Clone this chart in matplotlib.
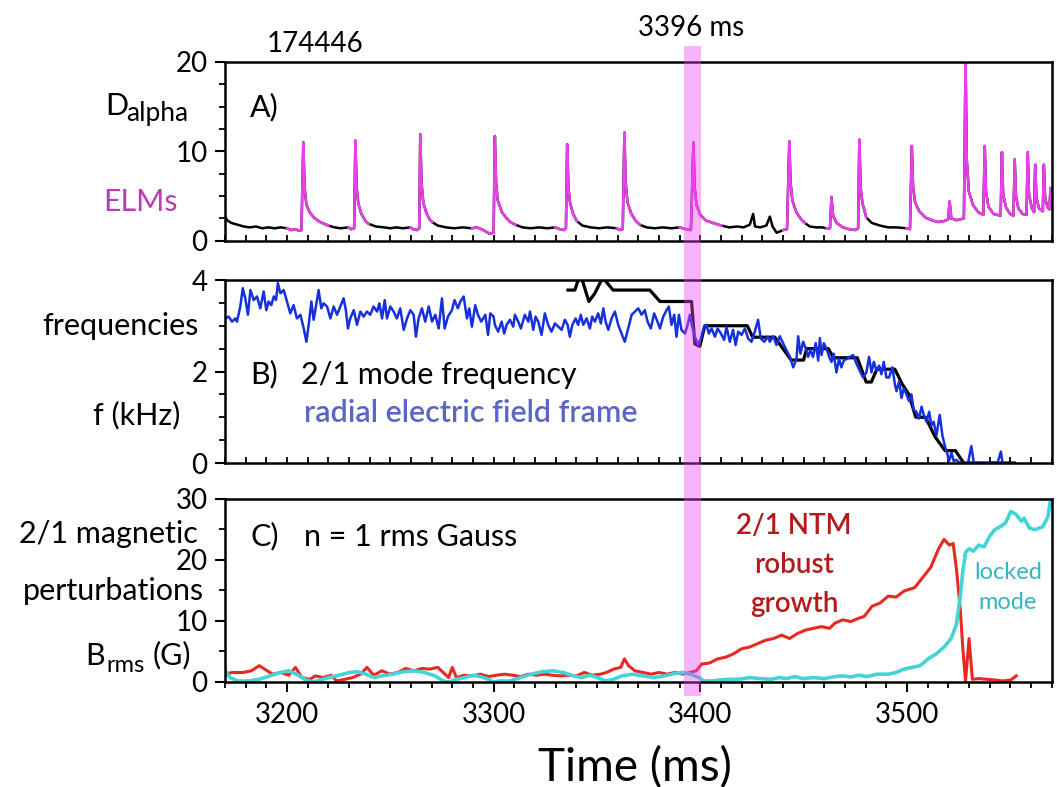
import numpy as np
import matplotlib
matplotlib.use("Agg")
import matplotlib.pyplot as plt
from matplotlib.patches import Rectangle
from matplotlib.transforms import blended_transform_factory
from matplotlib.ticker import MultipleLocator

plt.rcParams['font.family'] = ['Lato', 'DejaVu Sans']

W, H = 1057, 787

# time window (ms) and the highlighted instant
xlim = (3170, 3570)
band = (3392.0, 3400.5)

# A) D-alpha trace, ms / a.u.
dalpha_t = [3170, 3171, 3173, 3176, 3179, 3182, 3185, 3188, 3191, 3194, 3197, 3200,
            3202, 3204, 3206, 3207, 3207.9, 3208.5, 3209.4, 3211, 3213, 3216, 3220,
            3223, 3226, 3229.8, 3231, 3232.5, 3233.1, 3233.7, 3234.5, 3236, 3238, 3239.5,
            3243, 3247, 3250, 3253, 3256, 3259.7, 3261, 3263, 3264, 3264.5, 3265.1, 3266, 3267.5, 3269, 3270.2,
            3273, 3277, 3281, 3285, 3289.5, 3292, 3295, 3298, 3300, 3300.6, 3301.2, 3302, 3304, 3306, 3308, 3310.5,
            3314, 3318, 3322, 3326, 3329.8, 3332, 3334, 3335, 3335.6, 3336.2, 3337, 3338.5, 3340.3,
            3343, 3347, 3351, 3355, 3359.6, 3361, 3362.5, 3363.3, 3363.9, 3364.8, 3366.5, 3368.5, 3370.7,
            3374, 3378, 3382, 3386, 3390, 3393, 3395.5, 3396.7, 3397.3, 3398.2, 3400, 3402.5, 3406, 3410.3,
            3414, 3418, 3421, 3424, 3425.6, 3426.5, 3429, 3432, 3433.7, 3435, 3437, 3440.1, 3442, 3443.1, 3443.7, 3444.6, 3446.5, 3448.5, 3450.6,
            3453, 3456, 3459, 3461.1, 3462.8, 3463.5, 3464.3, 3466, 3469, 3472, 3475, 3476.4, 3477, 3477.6, 3478.5, 3480.4,
            3483, 3487, 3491, 3495, 3499.8, 3501.5, 3502.4, 3503, 3504, 3506, 3509, 3512, 3515, 3518, 3520, 3520.7, 3521.5, 3524, 3527.6, 3528.4, 3529, 3530, 3532, 3534.5,
            3537, 3537.7, 3538.3, 3539.5, 3542, 3545.4, 3546, 3546.6, 3548, 3550, 3551.6, 3552.2, 3552.8, 3554, 3556, 3557.9, 3558.5, 3559.1, 3560.5, 3561.6, 3562.1, 3562.7, 3564, 3565.8, 3566.3, 3566.9, 3568, 3569, 3569.5, 3570]
dalpha_v = [2.8, 2.3, 2.0, 1.8, 1.6, 1.5, 1.6, 1.4, 1.5, 1.4, 1.5, 1.4,
            1.2, 1.3, 1.1, 1.2, 11.0, 6.0, 4.0, 3.2, 2.6, 2.1, 1.7,
            1.5, 1.4, 1.5, 1.3, 1.4, 11.2, 6.0, 4.2, 3.0, 2.2, 1.9,
            1.6, 1.5, 1.4, 1.5, 1.4, 1.5, 1.3, 1.2, 1.4, 11.9, 6.5, 4.2, 3.1, 2.4, 2.1,
            1.7, 1.5, 1.4, 1.5, 1.4, 1.5, 1.2, 0.8, 0.9, 11.7, 6.5, 4.5, 3.2, 2.6, 2.1, 1.8,
            1.5, 1.4, 1.5, 1.4, 1.5, 1.3, 1.2, 1.4, 10.8, 6.0, 4.2, 3.0, 2.2,
            1.7, 1.5, 1.4, 1.5, 1.4, 1.2, 1.3, 12.1, 6.5, 4.3, 3.1, 2.3, 1.8,
            1.5, 1.4, 1.5, 1.4, 1.5, 1.3, 1.2, 11.0, 6.0, 4.0, 2.9, 2.3, 2.0, 1.7,
            1.5, 1.6, 1.5, 1.8, 3.0, 1.6, 1.5, 1.7, 2.7, 1.6, 0.9, 1.2, 1.3, 11.1, 6.5, 4.5, 3.2, 2.5, 2.0,
            1.6, 1.5, 1.5, 1.4, 1.4, 4.9, 2.8, 2.0, 1.5, 1.3, 1.2, 1.4, 11.3, 6.0, 4.2, 2.6,
            2.0, 1.7, 1.5, 1.5, 1.4, 1.3, 10.6, 6.0, 4.3, 3.3, 2.6, 2.3, 2.1, 2.2, 2.4, 4.4, 2.5, 2.3, 2.5, 20.1, 9.0, 5.5, 4.0, 3.2,
            2.9, 10.6, 5.5, 3.8, 3.0, 2.8, 9.9, 5.2, 3.7, 3.0, 2.8, 9.1, 5.0, 3.6, 3.0, 2.9, 9.9, 5.2, 3.6, 3.2, 8.5, 4.8, 3.6, 3.3, 8.5, 4.8, 3.8, 3.5, 5.9, 3.8]
# stretches of the D-alpha trace drawn as ELMs
elm_windows = [(3200, 3220), (3229.8, 3239.5), (3259.7, 3270.2), (3289.5, 3310.5),
               (3329.8, 3340.3), (3359.6, 3370.7), (3390, 3410.3), (3440.1, 3450.6),
               (3461.1, 3480.4), (3499.8, 3570)]

# B) 2/1 mode frequency (kHz), magnetics
mode_t = [3336, 3339.3, 3341.3, 3342.9, 3346.1, 3349, 3352.2, 3353.8, 3357.8, 3375.6,
          3380.5, 3395.8, 3397.4, 3399.8, 3402.2, 3422.8, 3425.4, 3436.1, 3440, 3444,
          3450, 3451.5, 3462, 3464.5, 3476, 3480.3, 3482.8, 3485.5, 3494.2, 3497.8,
          3501, 3504.3, 3509, 3513.7, 3518.5, 3523.5, 3527.5, 3552]
mode_v = [3.78, 3.78, 4.05, 4.0, 3.53, 3.71, 4.0, 4.0, 3.78, 3.78,
          3.53, 3.53, 2.6, 2.55, 3.0, 3.0, 2.75, 2.75, 2.5, 2.25,
          2.25, 2.5, 2.5, 2.3, 2.3, 1.77, 1.77, 2.05, 2.05, 1.72,
          1.5, 1.0, 1.0, 0.57, 0.27, 0.27, 0.0, 0.0]

# B) frequency in the radial electric field frame (kHz)
erframe_t = [3170.2, 3171.8, 3173.4, 3175.0, 3175.8, 3177.4, 3178.6, 3179.8, 3181.1, 3182.3,
             3183.9, 3185.5, 3187.1, 3188.7, 3190.0, 3191.1, 3192.4, 3193.6, 3194.7, 3195.6,
             3196.8, 3198.4, 3200.0, 3201.6, 3203.2, 3204.8, 3206.5, 3208.1, 3209.4, 3210.5,
             3211.8, 3212.9, 3214.0, 3215.3, 3216.6, 3217.7, 3219.4, 3221.0, 3222.6, 3224.2,
             3225.8, 3227.4, 3228.5, 3229.5, 3230.6, 3232.3, 3233.9, 3235.5, 3237.1, 3238.7,
             3240.3, 3241.9, 3243.6, 3244.7, 3246.0, 3247.3, 3248.4, 3250.0, 3251.6, 3253.2,
             3254.8, 3256.5, 3258.1, 3259.7, 3261.3, 3262.4, 3263.7, 3265.3, 3266.9, 3268.6,
             3270.2, 3271.8, 3273.4, 3275.0, 3276.3, 3277.9, 3279.8, 3281.1, 3282.7, 3283.9,
             3285.5, 3287.1, 3288.2, 3289.5, 3291.1, 3292.4, 3294.0, 3296.0, 3297.3, 3298.4,
             3300.0,
             3300.6, 3302.2, 3303.9, 3305.1, 3306.3, 3307.9, 3309.5, 3310.3, 3311.9, 3313.2,
             3315.1, 3316.8, 3317.6, 3319.2, 3320.3, 3321.6, 3323.2, 3324.8, 3326.4, 3328.0,
             3329.7, 3331.3, 3332.9, 3334.5, 3335.8, 3336.9, 3338.1, 3339.7, 3340.9, 3342.2,
             3343.4, 3345.0, 3346.6, 3347.7, 3349.0, 3350.6, 3351.9, 3353.1, 3354.2, 3355.5,
             3357.1, 3358.7, 3360.3, 3361.9, 3363.5, 3365.1, 3366.8, 3368.4, 3370.0, 3371.6,
             3373.2, 3374.5, 3376.1, 3377.7, 3379.3, 3380.5, 3382.1, 3383.7, 3384.8, 3386.1,
             3387.4, 3388.5, 3389.7, 3390.9, 3392.6, 3393.9, 3395.0, 3396.1, 3397.4, 3399.0,
             3400.6, 3401.9, 3403.0, 3404.2, 3405.5, 3407.1, 3408.4, 3410.0, 3411.6, 3412.7,
             3414.3, 3415.9, 3417.1, 3418.4, 3420.0, 3421.6, 3423.2, 3424.8, 3426.4, 3428.0,
             3429.3, 3431.0, 3432.6,
             3433.7, 3435.3, 3436.9, 3438.5, 3440.9, 3443.4, 3445.0, 3446.6, 3447.4, 3448.5,
             3449.8, 3451.1, 3452.2, 3453.3, 3454.6, 3455.9, 3457.1, 3457.9, 3458.7, 3459.8,
             3461.1, 3462.4, 3463.5, 3464.6, 3465.9, 3467.2, 3468.3, 3469.5, 3471.1, 3472.4,
             3474.0, 3475.6, 3477.2, 3478.8, 3480.4, 3481.7, 3482.9, 3484.0, 3485.3, 3486.6,
             3487.7, 3488.8, 3490.1, 3491.4, 3493.0, 3494.2, 3495.0, 3496.3, 3497.4, 3498.5,
             3499.8, 3501.1, 3502.2, 3503.3, 3504.6, 3505.9, 3507.1, 3508.2, 3509.5, 3510.8,
             3511.9, 3513.0, 3514.3, 3515.9, 3517.2, 3518.4, 3519.5, 3520.4, 3521.6, 3522.7,
             3524.0, 3525.3, 3526.6, 3528.0, 3529.6, 3531.2, 3532.4, 3534.5,
             3537.0, 3540.0, 3544.0, 3545.5, 3546.3]
erframe_v = [3.16, 3.20, 3.09, 3.16, 3.09, 3.42, 3.82, 3.60, 3.24, 3.78,
             3.56, 3.64, 3.38, 3.75, 3.34, 3.53, 3.45, 3.64, 3.56, 3.93,
             3.71, 3.78, 3.53, 3.27, 3.45, 3.16, 3.24, 2.94, 2.65, 3.02,
             3.53, 3.13, 3.42, 3.78, 3.38, 3.49, 3.42, 3.16, 3.42, 3.24,
             3.42, 3.60, 3.34, 2.94, 3.16, 3.34, 3.02, 3.31, 3.20, 3.31,
             3.24, 3.42, 3.31, 3.49, 3.16, 3.56, 3.16, 3.42, 3.31, 3.16,
             3.38, 2.91, 3.16, 3.34, 3.24, 2.76, 3.16, 3.38, 3.09, 3.42,
             3.09, 3.24, 2.94, 3.60, 2.94, 3.20, 3.34, 3.56, 3.38, 3.53,
             3.64, 3.16, 3.38, 2.98, 3.45, 3.24, 3.09, 3.24, 2.80, 3.27,
             3.20,
             3.02, 2.87, 3.09, 2.83, 3.02, 3.13, 2.98, 3.24, 3.09, 2.94,
             3.24, 3.09, 3.31, 2.91, 3.20, 3.09, 2.80, 3.27, 3.02, 2.87,
             3.05, 2.98, 2.91, 3.13, 3.02, 2.76, 3.02, 3.16, 3.02, 3.24,
             3.02, 3.16, 2.94, 3.20, 3.09, 3.27, 3.05, 3.38, 3.09, 2.91,
             3.16, 3.31, 3.02, 2.83, 2.65, 2.94, 3.24, 3.31, 3.38, 3.24,
             3.34, 3.09, 2.94, 3.27, 3.09, 2.94, 3.20, 3.34, 3.42, 3.02,
             3.24, 2.76, 3.24, 2.91, 2.83, 3.02, 3.24, 2.98, 2.76, 2.58,
             2.76, 2.98, 3.02, 2.83, 2.94, 2.76, 2.94, 2.83, 2.69, 2.98,
             2.65, 2.91, 2.58, 2.87, 2.80, 2.94, 2.72, 2.65, 2.87, 3.13,
             2.72, 2.65, 2.76,
             2.65, 2.77, 2.58, 2.77, 2.54, 2.32, 2.09, 2.28, 2.77, 2.39,
             2.65, 2.50, 2.32, 2.47, 2.32, 2.62, 2.24, 2.73, 2.36, 2.62,
             2.50, 2.32, 2.21, 2.39, 1.98, 2.28, 2.09, 2.24, 2.28, 2.32,
             2.36, 2.17, 2.02, 1.87, 1.98, 2.32, 1.98, 2.21, 2.02, 2.13,
             1.94, 2.21, 1.87, 1.87, 2.09, 1.72, 1.57, 1.79, 1.42, 1.64,
             1.50, 1.35, 1.50, 1.16, 1.12, 0.97, 1.23, 1.05, 0.90, 1.12,
             0.82, 0.90, 0.60, 1.05, 0.60, 0.37, 0.22, 0.04, 0.22, 0.04,
             0.07, 0.01, 0.0, 0.01, 0.0, 0.37, 0.0, 0.0,
             0.0, 0.0, 0.02, 0.25, 0.0]

# C) n=1 rms field (G): 2/1 NTM (red) and locked mode (cyan)
ntm_t = [3169.8, 3173.7, 3178.8, 3182.7, 3186.6, 3189.2, 3193.0, 3196.9, 3200.8, 3204.1,
         3207.2, 3211.1, 3213.7, 3217.5, 3221.4, 3224.0, 3227.9, 3231.7, 3235.6, 3238.7,
         3242.0, 3245.9, 3249.8, 3253.6, 3257.5, 3261.4, 3265.3, 3269.1, 3273.0, 3275.6,
         3278.2, 3280.0, 3282.0, 3285.9, 3289.8, 3293.6, 3297.5, 3301.4, 3305.2, 3309.1,
         3313.0, 3316.8, 3320.7, 3324.6, 3328.4, 3332.3, 3336.2, 3340.1, 3343.9, 3347.8,
         3351.7, 3354.7, 3358.1, 3361.5, 3363.3, 3365.3, 3368.4, 3372.3, 3376.2, 3380.0,
         3383.9, 3387.8, 3391.6, 3395.0, 3398.1, 3400.7, 3404.5, 3408.4, 3412.3, 3416.1,
         3420.0, 3423.9, 3427.8, 3431.6, 3435.5, 3439.4, 3443.2, 3447.1, 3451.0, 3454.8,
         3458.7, 3462.6, 3465.1, 3469.0, 3472.9, 3476.8, 3479.3, 3483.2, 3487.1, 3491.0,
         3494.8, 3498.7, 3503.8, 3507.7, 3511.6, 3515.4, 3518.0, 3520.6, 3522.4, 3523.9,
         3525.8, 3527.1, 3528.4, 3530.1, 3531.7, 3534.8, 3538.7, 3542.5, 3546.4, 3550.3,
         3552.9]
ntm_v = [1.28, 1.56, 1.56, 1.83, 2.67, 2.11, 1.28, 1.56, 1.11, 2.39,
         0.72, 0.44, 1.0, 0.72, 1.11, 0.17, 0.44, 0.72, 1.28, 2.39,
         1.11, 1.83, 1.28, 1.56, 2.22, 1.83, 2.22, 2.11, 2.39, 1.56,
         0.72, 2.39, 0.72, 1.11, 1.0, 1.28, 0.89, 1.11, 1.28, 1.11,
         0.89, 1.28, 1.11, 1.28, 1.11, 1.0, 1.11, 1.0, 1.56, 1.11,
         1.28, 1.56, 2.11, 2.39, 3.78, 2.67, 1.83, 1.56, 1.28, 1.56,
         1.28, 1.56, 1.28, 1.56, 1.83, 2.94, 3.11, 3.78, 4.06, 4.61,
         5.44, 5.72, 6.28, 6.83, 7.11, 7.67, 7.11, 7.94, 8.5, 8.78,
         9.06, 8.78, 9.61, 10.17, 9.89, 10.44, 10.72, 12.39, 12.94, 14.06,
         13.89, 14.89, 15.44, 17.11, 18.78, 21.83, 23.33, 22.39, 22.67, 18.78,
         12.11, 5.44, 0.17, 7.11, 0.44, 0.56, 0.44, 0.33, 0.17, 0.33,
         1.0]
locked_t = [3169.8, 3172.4, 3176.3, 3181.4, 3186.6, 3191.7, 3196.9, 3200.8, 3204.6, 3208.5,
            3212.4, 3216.2, 3220.1, 3225.3, 3230.4, 3234.3, 3238.2, 3242.0, 3245.9, 3251.1,
            3256.2, 3261.4, 3266.5, 3271.7, 3275.6, 3278.2, 3282.0, 3285.9, 3289.8, 3293.6,
            3297.5, 3300.1, 3302.7, 3307.8, 3313.0, 3318.1, 3323.3, 3328.4, 3333.6, 3338.8,
            3342.6, 3346.5, 3350.4, 3354.2, 3358.1, 3362.0, 3367.1, 3372.3, 3377.5, 3382.6,
            3387.8, 3391.6, 3395.5, 3399.4, 3401.9, 3405.8, 3409.7, 3413.6, 3418.7, 3423.9,
            3429.0, 3434.2, 3438.1, 3442.0, 3445.8, 3449.7, 3454.8, 3460.0, 3465.1, 3469.0,
            3472.9, 3476.8, 3480.6, 3485.8, 3490.9, 3494.8, 3498.7, 3502.6, 3506.4, 3510.3,
            3514.2, 3518.0, 3521.4, 3523.9, 3525.8, 3527.1, 3528.4, 3530.1, 3532.2, 3534.8,
            3537.4, 3540.0, 3542.5, 3545.1, 3547.7, 3550.3, 3552.9, 3555.4, 3556.7, 3559.3,
            3561.9, 3565.8, 3568.3, 3569.6]
locked_v = [2.11, 0.72, 0.17, 0.17, 0.44, 1.0, 1.56, 1.83, 1.28, 0.44,
            0.0, 0.33, 0.72, 1.11, 1.56, 1.67, 1.28, 0.72, 1.0, 1.28,
            1.67, 1.83, 1.56, 1.0, 0.17, 0.0, 0.44, 0.72, 1.11, 0.89,
            0.44, 0.0, 0.17, 0.17, 0.72, 1.28, 1.67, 1.83, 1.56, 1.0,
            0.72, 1.11, 0.72, 0.17, 0.44, 1.0, 1.28, 1.0, 0.72, 1.0,
            1.39, 1.56, 1.28, 0.72, 0.17, 0.17, 0.33, 0.44, 0.44, 0.72,
            0.56, 0.44, 0.72, 0.56, 0.89, 0.56, 0.72, 0.56, 0.89, 1.0,
            0.83, 1.11, 0.89, 1.28, 1.28, 1.56, 2.11, 2.39, 2.67, 3.78,
            4.61, 5.72, 7.11, 9.33, 13.8, 18.2, 21.2, 21.8, 21.4, 22.4,
            22.1, 23.8, 24.9, 25.4, 26.0, 27.9, 27.4, 26.3, 26.8, 25.2,
            24.9, 25.4, 27.1, 29.9]

MAGENTA = '#ea3fea'
BLUE = '#1630dc'
RED = '#e8291f'
CYAN = '#45d3da'

fig = plt.figure(figsize=(W / 100, H / 100), dpi=100)


def box(left, top, right, bottom):
    # pixel edges of a panel -> figure fraction rect
    return [left / W, 1 - bottom / H, (right - left) / W, (bottom - top) / H]


def label(px, py, s, **kw):
    kw.setdefault('fontsize', 22)
    kw.setdefault('va', 'baseline')
    fig.text(px / W, 1 - py / H, s, **kw)


def style(ax, ymax, ymajor, yminor, xlabels=False):
    ax.set_xlim(*xlim)
    ax.set_ylim(0, ymax)
    ax.xaxis.set_major_locator(MultipleLocator(100))
    ax.xaxis.set_minor_locator(MultipleLocator(10))
    ax.yaxis.set_major_locator(MultipleLocator(ymajor))
    ax.yaxis.set_minor_locator(MultipleLocator(yminor))
    for s in ax.spines.values():
        s.set_linewidth(1.8)
    ax.tick_params(axis='y', which='major', direction='out', length=7.5, width=1.5,
                   labelsize=20, pad=5)
    ax.tick_params(axis='y', which='minor', direction='out', length=4, width=1.3)
    if xlabels:
        ax.tick_params(axis='x', which='major', direction='out', length=7.5, width=1.5,
                       labelsize=20, pad=7)
        ax.tick_params(axis='x', which='minor', direction='out', length=4, width=1.3)
    else:
        ax.tick_params(axis='x', which='both', direction='in', length=4, width=1.3,
                       labelbottom=False)


ax_a = fig.add_axes(box(225, 61.8, 1051.5, 240.8))
ax_b = fig.add_axes(box(225, 280, 1051.5, 463))
ax_c = fig.add_axes(box(225, 498.6, 1051.5, 682))

# A) D-alpha, black between ELMs, magenta during ELMs
dt = np.array(dalpha_t)
dv = np.array(dalpha_v)
ax_a.plot(dt, dv, color='black', lw=1.8)
for a, b in elm_windows:
    m = (dt >= a) & (dt <= b)
    ax_a.plot(dt[m], dv[m], color=MAGENTA, lw=1.8)
style(ax_a, 20, 10, 2.5)

# B) frequencies
ax_b.plot(mode_t, mode_v, color='black', lw=2.3, solid_joinstyle='round')
ax_b.plot(erframe_t, erframe_v, color=BLUE, lw=1.8)
style(ax_b, 4, 2, 0.5)

# C) rms perturbations
ax_c.plot(ntm_t, ntm_v, color=RED, lw=2.2)
ax_c.plot(locked_t, locked_v, color=CYAN, lw=2.6, solid_joinstyle='round')
style(ax_c, 30, 10, 5, xlabels=True)

# highlighted time slice across all three panels
trans = blended_transform_factory(ax_c.transData, fig.transFigure)
fig.add_artist(Rectangle((band[0], 1 - 696 / H), band[1] - band[0], (696 - 46) / H,
                         transform=trans, color='#ee44ee', alpha=0.4, lw=0, zorder=5))

label(315, 52.4, '174446', ha='center', fontsize=20)
label(691, 36, '3396 ms', ha='center', fontsize=20)

label(105, 115, 'D')
label(126, 121, 'alpha', fontsize=19)
label(250, 116.6, 'A)')
label(103, 211, 'ELMs', color='#b73db7')

label(42, 334.7, 'frequencies')
label(93, 424, 'f (kHz)')
label(250, 383.7, 'B)')
label(300.7, 383.7, '2/1 mode frequency')
label(304, 421.9, 'radial electric field frame', color='#5b66c4', fontweight='semibold')

label(197.6, 542.5, '2/1 magnetic', ha='right')
label(204, 600, 'perturbations', ha='right')
label(85, 665, 'B')
label(106, 672, 'rms', fontsize=17)
label(153, 664, '(G)')
label(250, 545.9, 'C)')
label(304, 545.9, 'n = 1 rms Gauss')

for py, s in [(534, '2/1 NTM'), (573, 'robust'), (611.8, 'growth')]:
    label(794, py, s, ha='center', color='#b41a1a', fontsize=20, fontweight='semibold')
for py, s in [(579.3, 'locked'), (609.4, 'mode')]:
    label(1008, py, s, ha='center', color='#33b6bf', fontsize=17)

label(635, 781, 'Time (ms)', ha='center', fontsize=33)

fig.savefig('out.png', dpi=100)
